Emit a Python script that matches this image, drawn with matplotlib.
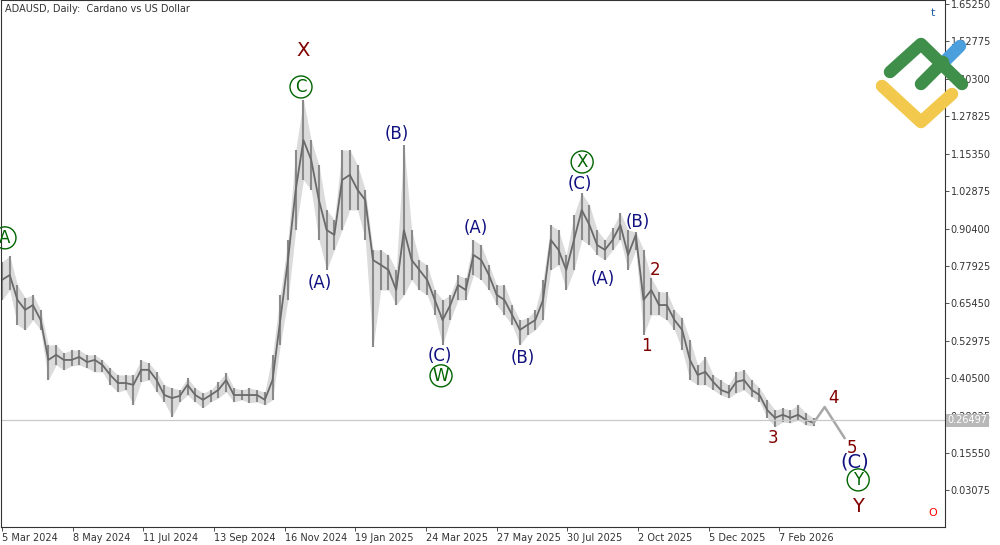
"""ADAUSD daily chart with Elliott wave labels."""

import matplotlib

matplotlib.use("Agg")
import matplotlib.pyplot as plt
import numpy as np
import pandas as pd

# weekly samples, starting 5 Mar 2024
closes = [0.733, 0.749, 0.666, 0.633, 0.649, 0.599, 0.466, 0.483, 0.466, 0.466, 0.476, 0.459,
          0.466, 0.449, 0.416, 0.389, 0.389, 0.383, 0.433, 0.433, 0.399, 0.349, 0.339, 0.346,
          0.383, 0.349, 0.333, 0.349, 0.366, 0.399, 0.349, 0.349, 0.349, 0.349, 0.333, 0.399,
          0.599, 0.799, 1.033, 1.199, 1.133, 0.999, 0.899, 0.883, 1.066, 1.083, 1.033, 0.999,
          0.799, 0.783, 0.766, 0.699, 0.899, 0.799, 0.766, 0.733, 0.666, 0.599, 0.649, 0.716,
          0.699, 0.816, 0.799, 0.749, 0.683, 0.666, 0.616, 0.566, 0.583, 0.599, 0.666, 0.866,
          0.833, 0.766, 0.866, 0.966, 0.916, 0.849, 0.833, 0.866, 0.916, 0.816, 0.883, 0.666,
          0.699, 0.649, 0.649, 0.599, 0.566, 0.466, 0.416, 0.426, 0.393, 0.366, 0.356, 0.393,
          0.399, 0.366, 0.349, 0.299, 0.273, 0.283, 0.273, 0.283, 0.266, 0.256]
highs = [0.793, 0.813, 0.716, 0.673, 0.683, 0.633, 0.516, 0.516, 0.489, 0.499, 0.499, 0.483,
         0.483, 0.466, 0.439, 0.416, 0.416, 0.416, 0.466, 0.456, 0.426, 0.383, 0.373, 0.366,
         0.406, 0.373, 0.356, 0.366, 0.393, 0.423, 0.373, 0.366, 0.373, 0.366, 0.359, 0.483,
         0.683, 0.866, 1.166, 1.333, 1.199, 1.116, 0.966, 0.933, 1.166, 1.166, 1.116, 1.033,
         0.833, 0.833, 0.816, 0.766, 1.183, 0.899, 0.799, 0.783, 0.699, 0.666, 0.683, 0.749,
         0.739, 0.866, 0.849, 0.783, 0.716, 0.716, 0.649, 0.599, 0.606, 0.633, 0.733, 0.916,
         0.899, 0.816, 0.949, 1.023, 0.983, 0.899, 0.866, 0.906, 0.956, 0.899, 0.893, 0.833,
         0.739, 0.693, 0.693, 0.633, 0.606, 0.533, 0.449, 0.476, 0.416, 0.399, 0.383, 0.426,
         0.433, 0.399, 0.373, 0.333, 0.299, 0.306, 0.299, 0.316, 0.289, 0.273]
lows = [0.666, 0.699, 0.583, 0.566, 0.599, 0.566, 0.399, 0.449, 0.433, 0.446, 0.449, 0.439,
        0.426, 0.426, 0.383, 0.359, 0.366, 0.316, 0.393, 0.399, 0.359, 0.326, 0.276, 0.326,
        0.349, 0.326, 0.306, 0.326, 0.339, 0.359, 0.326, 0.333, 0.323, 0.326, 0.316, 0.333,
        0.516, 0.666, 0.899, 1.066, 1.033, 0.866, 0.766, 0.833, 0.899, 0.966, 0.966, 0.866,
        0.509, 0.699, 0.699, 0.649, 0.683, 0.733, 0.699, 0.683, 0.616, 0.516, 0.599, 0.666,
        0.666, 0.749, 0.733, 0.699, 0.649, 0.616, 0.583, 0.516, 0.549, 0.566, 0.599, 0.766,
        0.783, 0.699, 0.766, 0.866, 0.849, 0.816, 0.799, 0.833, 0.866, 0.766, 0.833, 0.549,
        0.616, 0.616, 0.599, 0.566, 0.499, 0.399, 0.383, 0.383, 0.366, 0.349, 0.339, 0.356,
        0.366, 0.343, 0.326, 0.273, 0.243, 0.259, 0.256, 0.266, 0.249, 0.246]

start = pd.Timestamp("2024-03-05")
dates = pd.date_range(start, periods=len(closes), freq="7D")

# projected path 4 -> 5
proj_dates = [dates[-1], pd.Timestamp("2026-03-20"), pd.Timestamp("2026-04-07")]
proj_prices = [closes[-1], 0.309, 0.206]

last_price = 0.26497
y_ticks = [1.65250, 1.52775, 1.40300, 1.27825, 1.15350, 1.02875, 0.90400, 0.77925,
           0.65450, 0.52975, 0.40500, 0.28025, 0.15550, 0.03075]
x_tick_dates = pd.date_range(start, periods=12, freq="64D")

NAVY, GREEN, RED = "#101080", "#006400", "#800000"
# (text, days from start, price, colour, circled, size)
waves = [
    ("A", 2.7, 0.873, GREEN, True, 12),
    ("X", 272.6, 1.499, RED, False, 14),
    ("C", 270.8, 1.376, GREEN, True, 12),
    ("(A)", 288, 0.723, NAVY, False, 12),
    ("(B)", 357.8, 1.219, NAVY, False, 12),
    ("(A)", 429.3, 0.906, NAVY, False, 12),
    ("(C)", 396.7, 0.479, NAVY, False, 12),
    ("W", 397.6, 0.413, GREEN, True, 12),
    ("(B)", 472, 0.473, NAVY, False, 12),
    ("X", 525.4, 1.126, GREEN, True, 12),
    ("(C)", 523.6, 1.053, NAVY, False, 12),
    ("(A)", 544.4, 0.736, NAVY, False, 12),
    ("(B)", 576, 0.926, NAVY, False, 12),
    ("2", 591.5, 0.766, RED, False, 12),
    ("1", 583.3, 0.513, RED, False, 12),
    ("3", 698.4, 0.206, RED, False, 12),
    ("4", 752.7, 0.339, RED, False, 12),
    ("5", 770, 0.173, RED, False, 12),
    ("(C)", 772.6, 0.126, NAVY, False, 14),
    ("Y", 775.4, 0.066, GREEN, True, 12),
    ("Y", 775.4, -0.024, RED, False, 14),
]

fig = plt.figure(figsize=(10, 5.45), dpi=100)
ax = fig.add_axes([0.001, 18 / 545, 0.944, 527 / 545])

ax.fill_between(dates, lows, highs, color="#9a9a9a", alpha=0.35, lw=0)
ax.vlines(dates, lows, highs, color="#8a8a8a", lw=1.5)
ax.plot(dates, closes, color="#6a6a6a", lw=1.3)
ax.plot(proj_dates, proj_prices, color="#a8a8a8", lw=1.8)
ax.axhline(last_price, color="#c8c8c8", lw=0.9)

for txt, d, p, col, circ, size in waves:
    kw = {}
    if circ:
        kw["bbox"] = dict(boxstyle="circle,pad=0.12", fc="none", ec=col, lw=1.0)
    ax.text(start + pd.Timedelta(days=d), p, txt, color=col, fontsize=size,
            ha="center", va="center", **kw)

ax.set_xlim(start - pd.Timedelta(days=0.9), start + pd.Timedelta(days=854))
ax.set_ylim(-0.091, 1.666)
ax.yaxis.tick_right()
ax.set_yticks(y_ticks)
ax.set_yticklabels([f"{v:.5f}" for v in y_ticks], fontsize=7, color="#333333")
ax.set_xticks(x_tick_dates)
ax.set_xticklabels([f"{d.day} {d.strftime('%b %Y')}" for d in x_tick_dates],
                   fontsize=7, color="#333333", ha="left")
ax.tick_params(length=3, width=0.6, color="#333333", pad=1)
for s in ax.spines.values():
    s.set_color("#333333")
    s.set_linewidth(0.8)

ax.text(0.004, 0.993, "ADAUSD, Daily:  Cardano vs US Dollar", transform=ax.transAxes,
        fontsize=7, color="#333333", va="top")
ax.text(1.003, last_price, f"{last_price:.5f}", transform=ax.get_yaxis_transform(),
        fontsize=7, color="white", va="center", ha="left",
        bbox=dict(boxstyle="square,pad=0.15", fc="#b8b8b8", ec="none"))
ax.text(0.992, 0.02, "O", transform=ax.transAxes, color="red", fontsize=8, ha="right")
ax.text(0.99, 0.985, "t", transform=ax.transAxes, color="#1f5fa8", fontsize=8,
        ha="right", va="top")

# logo, in figure pixels
def fpx(pts):
    return [p[0] / 1000 for p in pts], [1 - p[1] / 545 for p in pts]

for pts, col in [
    ([(882, 86), (921, 122), (952, 94)], "#f2c94c"),
    ([(944, 62), (960, 46)], "#4a9fdc"),
    ([(890, 72), (921, 44), (962, 84)], "#3f8f4a"),
    ([(921, 84), (943, 62)], "#3f8f4a"),
]:
    xs, ys = fpx(pts)
    fig.add_artist(plt.Line2D(xs, ys, color=col, lw=9, solid_capstyle="round",
                              solid_joinstyle="round"))

fig.savefig("out.png", dpi=100)
